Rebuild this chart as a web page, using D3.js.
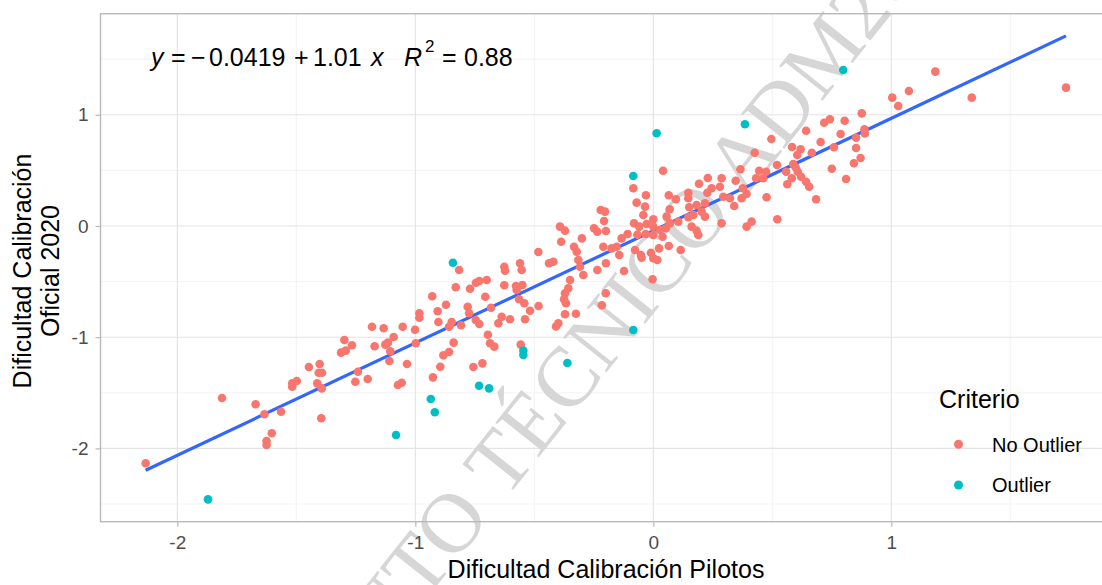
<!DOCTYPE html>
<html>
<head>
<meta charset="utf-8">
<script src="https://cdn.jsdelivr.net/npm/d3@7"></script>
<style>
  body { margin: 0; background: #fff; }
  text { font-family: "Liberation Sans", Arial, sans-serif; }
</style>
</head>
<body>
<script>
// Dificultad pilotos (x) vs oficial 2020 (y)
let noOutlier = [
  [-0.816,-0.396],[-0.830,-0.551],[-0.770,-0.564],[-0.745,-0.510],[-0.731,-0.495],[-0.700,-0.486],[-0.706,-0.636],
  [-0.682,-0.735],[-0.929,-0.632],[-0.871,-0.708],[-0.906,-0.767],[-0.983,-0.785],[-0.983,-0.825],[-0.903,-0.863],
  [-0.847,-0.863],[-0.858,-0.906],[-0.808,-0.893],[-0.780,-0.726],[-0.774,-0.785],[-0.746,-0.845],[-0.731,-0.881],
  [-0.651,-0.875],[-0.695,-0.978],[-0.686,-1.055],[-0.668,-1.085],
  [-1.182,-0.906],[-1.133,-0.920],[-1.053,-0.906],[-1.001,-0.933],[-1.091,-0.998],[-1.298,-1.025],[-1.266,-1.073],
  [-1.292,-1.121],[-1.312,-1.139],[-1.171,-1.082],[-1.126,-1.067],[-1.115,-1.049],[-1.105,-1.127],[-0.998,-1.055],
  [-1.109,-1.214],[-1.035,-1.241],[-0.839,-1.049],[-0.858,-1.133],[-0.882,-1.163],[-0.895,-1.265],[-0.756,-1.268],
  [-0.718,-1.235],[-1.447,-1.268],[-1.402,-1.241],[-1.406,-1.319],[-1.392,-1.319],[-1.241,-1.310],[-1.498,-1.394],
  [-1.517,-1.415],[-1.517,-1.445],[-1.200,-1.376],[-0.926,-1.361],
  [-0.399,-0.875],[-0.409,-0.904],[-1.057,-1.409],[-0.557,-1.067],
  [-2.133,-2.134],[-1.812,-1.547],[-1.671,-1.603],[-1.634,-1.693],[-1.564,-1.670],[-1.603,-1.864],[-1.625,-1.933],
  [-1.625,-1.969],[-1.412,-1.415],[-1.393,-1.460],[-1.395,-1.729],[-1.252,-1.400],[-1.073,-1.430],
  [0.041,0.497],[-0.084,0.339],[-0.031,0.276],[-0.070,0.210],[-0.035,0.174],[0.065,0.276],[0.095,0.240],
  [0.069,0.150],[0.056,0.084],[0.105,0.039],[0.000,0.060],[-0.042,0.099],[-0.081,0.024],[-0.028,0.018],
  [-0.059,-0.006],[0.000,-0.006],[0.028,-0.036],[0.053,-0.021],[0.070,0.024],[0.000,-0.081],[-0.032,-0.072],
  [-0.067,-0.078],[-0.108,-0.072],[-0.133,-0.111],[0.039,-0.096],[-0.221,0.144],[-0.203,0.129],[-0.207,0.045],
  [-0.249,-0.021],[-0.235,-0.051],[-0.199,-0.045],[-0.392,-0.006],[-0.371,-0.042],[-0.300,-0.111],[-0.387,-0.141],
  [-0.210,-0.186],[-0.175,-0.201],[-0.154,-0.186],[-0.143,-0.261],[-0.077,-0.216],[-0.052,-0.261],[-0.049,-0.285],
  [-0.010,-0.240],[0.024,-0.201],[0.065,-0.180],[0.115,-0.216],[0.000,-0.290],[0.017,-0.306],[-0.333,-0.186],
  [-0.322,-0.231],[-0.315,-0.306],[-0.308,-0.366],[-0.294,-0.441],[-0.483,-0.234],[-0.438,-0.335],[-0.420,-0.321],
  [-0.235,-0.396],[-0.199,-0.335],[-0.123,-0.405],[-0.003,-0.479],[-0.560,-0.335],[-0.553,-0.396],[-0.626,-0.366],
  [-0.623,-0.402],[-0.626,-0.533],[-0.577,-0.540],[-0.550,-0.531],[-0.574,-0.576],[-0.564,-0.659],[-0.542,-0.695],
  [-0.518,-0.762],[-0.482,-0.719],[-0.637,-0.816],[-0.602,-0.839],[-0.539,-0.839],[-0.350,-0.486],[-0.357,-0.560],
  [-0.371,-0.605],[-0.375,-0.659],[-0.367,-0.695],[-0.200,-0.605],[-0.216,-0.713],[-0.371,-0.794],[-0.325,-0.789],
  [1.004,1.154],[1.029,1.079],[0.876,1.013],[0.804,0.947],[0.718,0.929],[0.742,0.960],[0.642,0.857],
  [0.787,0.827],[0.887,0.870],[0.889,0.832],[0.852,0.794],[0.852,0.701],[0.871,0.612],[0.843,0.564],
  [0.759,0.708],[0.703,0.755],[0.666,0.659],[0.750,0.515],[0.810,0.423],[0.496,0.782],[0.583,0.710],
  [0.619,0.690],[0.605,0.638],[0.426,0.659],[0.520,0.549],[0.588,0.558],[0.598,0.528],[0.558,0.488],
  [0.607,0.488],[0.621,0.443],[0.582,0.429],[0.563,0.375],[0.642,0.398],[0.655,0.353],[0.684,0.240],
  [0.476,0.258],[0.521,0.060],[0.366,0.510],[0.445,0.497],[0.474,0.488],[0.462,0.429],[0.432,0.429],
  [0.346,0.407],[0.287,0.429],[0.229,0.432],[0.192,0.380],[0.245,0.339],[0.280,0.353],[0.376,0.339],
  [0.392,0.288],[0.371,0.249],[0.294,0.263],[0.322,0.249],[0.340,0.180],[0.227,0.299],[0.147,0.299],
  [0.147,0.249],[0.182,0.189],[0.217,0.204],[0.151,0.168],[0.203,0.129],[0.168,0.099],[0.217,0.084],
  [0.147,0.078],[0.161,-0.006],[0.182,-0.042],[0.189,-0.081],[0.287,0.024],[0.392,-0.006],[0.413,0.039],
  [1.185,1.388],[1.734,1.244],[1.074,1.214],[1.338,1.154]
];

let outlier = [
  [-0.842,-0.330],[-0.084,0.450],[0.385,0.915],[0.798,1.403],[0.014,0.834],[-0.084,-0.935],[-0.546,-1.121],
  [-0.546,-1.160],[-0.361,-1.232],[-0.732,-1.436],[-0.690,-1.460],[-0.935,-1.556],[-0.918,-1.675],[-1.081,-1.880],
  [-1.871,-2.458]
];

let xTicks = [-2, -1, 0, 1];
let yTicks = [-2, -1, 0, 1];
let xMinor = [-1.5, -0.5, 0.5, 1.5];
let yMinor = [-2.5, -1.5, -0.5, 0.5, 1.5];
let categories = ["No Outlier", "Outlier"];
let colors = ["#F8766D", "#00BFC4"];
let intercept = -0.0419, slope = 1.01, r2 = 0.88;

let width = 1102,
  height = 585,
  pLeft = 100.5,
  pRight = 1102,
  pTop = 13.7,
  pBottom = 521.7;

let x = d3.scaleLinear().domain([-2.3227, 1.8853]).range([pLeft, pRight]);
let y = d3.scaleLinear().domain([-2.659, 1.909]).range([pBottom, pTop]);

let svg = d3.select("body").append("svg")
  .attr("width", width)
  .attr("height", height)
  .style("display", "block");

svg.append("rect").attr("width", width).attr("height", height).attr("fill", "#fff");

let grid = svg.append("g");
grid.selectAll("line.xminor").data(xMinor).enter().append("line")
  .attr("x1", d => x(d)).attr("x2", d => x(d))
  .attr("y1", pTop).attr("y2", pBottom)
  .attr("stroke", "#f0f0f0").attr("stroke-width", 0.8);
grid.selectAll("line.yminor").data(yMinor).enter().append("line")
  .attr("y1", d => y(d)).attr("y2", d => y(d))
  .attr("x1", pLeft).attr("x2", pRight)
  .attr("stroke", "#f0f0f0").attr("stroke-width", 0.8);
grid.selectAll("line.xmajor").data(xTicks).enter().append("line")
  .attr("x1", d => x(d)).attr("x2", d => x(d))
  .attr("y1", pTop).attr("y2", pBottom)
  .attr("stroke", "#e3e3e3").attr("stroke-width", 1.1);
grid.selectAll("line.ymajor").data(yTicks).enter().append("line")
  .attr("y1", d => y(d)).attr("y2", d => y(d))
  .attr("x1", pLeft).attr("x2", pRight)
  .attr("stroke", "#e3e3e3").attr("stroke-width", 1.1);

// watermark
let wm = svg.append("g")
  .attr("transform", "translate(505,500) rotate(-51.5)")
  .attr("fill", "#d6d6d6")
  .attr("font-size", 85);
wm.append("text")
  .style("font-family", "'Liberation Serif', 'Times New Roman', serif")
  .text("TÉCNICO ADM2020");
wm.append("text")
  .style("font-family", "'Liberation Serif', 'Times New Roman', serif")
  .attr("x", -21)
  .attr("text-anchor", "end")
  .text("INSTITUTO");

// panel border
svg.append("rect")
  .attr("x", pLeft).attr("y", pTop)
  .attr("width", pRight - pLeft + 5).attr("height", pBottom - pTop)
  .attr("fill", "none").attr("stroke", "#b8b8b8").attr("stroke-width", 1.4);

// axes
let xAxis = svg.append("g")
  .attr("transform", `translate(0,${pBottom})`)
  .call(d3.axisBottom(x).tickValues(xTicks).tickSize(5).tickPadding(5).tickFormat(d3.format("d")));
let yAxis = svg.append("g")
  .attr("transform", `translate(${pLeft},0)`)
  .call(d3.axisLeft(y).tickValues(yTicks).tickSize(5).tickPadding(7).tickFormat(d3.format("d")));

[xAxis, yAxis].forEach(a => {
  a.select(".domain").remove();
  a.selectAll(".tick line").attr("stroke", "#b8b8b8").attr("stroke-width", 1.2);
  a.selectAll(".tick text")
    .attr("fill", "#4d4d4d")
    .attr("font-size", 19)
    .style("font-family", "'Liberation Sans', Arial, sans-serif")
    .text(d => d < 0 ? "-" + Math.abs(d) : d);
});
xAxis.selectAll(".tick text").attr("dy", "0.9em");

// regression line
let all = noOutlier.concat(outlier);
let xr = d3.extent(all, d => d[0]);
let line = d3.line().x(d => x(d)).y(d => y(intercept + slope * d));
svg.append("path")
  .datum(xr)
  .attr("d", line)
  .attr("stroke", "#3366FF")
  .attr("stroke-width", 3.2)
  .attr("fill", "none");

// points
svg.append("g").selectAll("circle").data(noOutlier).enter().append("circle")
  .attr("cx", d => x(d[0])).attr("cy", d => y(d[1]))
  .attr("r", 4.3).attr("fill", colors[0]);
svg.append("g").selectAll("circle").data(outlier).enter().append("circle")
  .attr("cx", d => x(d[0])).attr("cy", d => y(d[1]))
  .attr("r", 4.3).attr("fill", colors[1]);

// equation
let eq = svg.append("text")
  .attr("y", 66)
  .attr("font-size", 25)
  .attr("fill", "#000");
let eqParts = [
  {t: "y", x: 151, it: true},
  {t: "=", x: 171},
  {t: "\u2212", x: 191},
  {t: d3.format(".4f")(Math.abs(intercept)), x: 209},
  {t: "+", x: 294},
  {t: String(slope), x: 313},
  {t: "x", x: 371, it: true},
  {t: "R", x: 404, it: true},
  {t: "=", x: 442},
  {t: String(r2), x: 464}
];
eqParts.forEach(p => {
  eq.append("tspan")
    .attr("x", p.x)
    .style("font-style", p.it ? "italic" : "normal")
    .text(p.t);
});
svg.append("text")
  .attr("x", 425).attr("y", 52)
  .attr("font-size", 17)
  .text("2");

// axis titles
svg.append("text")
  .attr("x", 606).attr("y", 578)
  .attr("text-anchor", "middle")
  .attr("font-size", 25)
  .text("Dificultad Calibración Pilotos");

let yt = svg.append("text")
  .attr("transform", "translate(0,271) rotate(-90)")
  .attr("text-anchor", "middle")
  .attr("font-size", 25);
yt.append("tspan").attr("x", 0).attr("y", 31).text("Dificultad Calibración");
yt.append("tspan").attr("x", 0).attr("y", 59).text("Oficial 2020");

// legend
let legend = svg.append("g");
legend.append("text")
  .attr("x", 939).attr("y", 408)
  .attr("font-size", 25)
  .text("Criterio");
let items = legend.selectAll("g.item").data(categories).enter().append("g")
  .attr("transform", (d, i) => `translate(0,${444.3 + i * 40.7})`);
items.append("circle")
  .attr("cx", 958.5).attr("cy", 0).attr("r", 4.5)
  .attr("fill", (d, i) => colors[i]);
items.append("text")
  .attr("x", 992).attr("y", 7.3)
  .attr("font-size", 20)
  .text(d => d);
</script>
</body>
</html>
